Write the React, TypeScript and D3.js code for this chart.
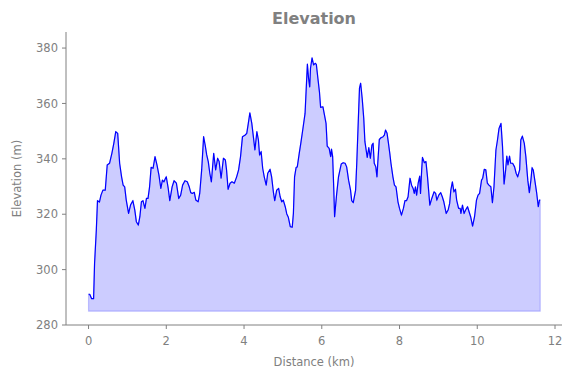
import React from "react";
import * as d3 from "d3";

const distanceKm = [
  0.0, 0.03, 0.08, 0.13, 0.155, 0.2, 0.23, 0.28, 0.32, 0.37, 0.43, 0.48, 0.54, 0.6, 0.65, 0.7, 0.75, 0.8, 0.85, 0.89,
  0.93, 0.97, 1.03, 1.08, 1.14, 1.19, 1.23, 1.28, 1.32, 1.36, 1.4, 1.45, 1.49, 1.53, 1.57, 1.61, 1.66, 1.71, 1.76, 1.81,
  1.86, 1.9, 1.94, 1.98, 2.0, 2.05, 2.09, 2.15, 2.2, 2.26, 2.32, 2.37, 2.42, 2.48, 2.54, 2.59, 2.63, 2.67, 2.72, 2.76,
  2.82, 2.86, 2.91, 2.96, 3.0, 3.04, 3.08, 3.12, 3.16, 3.22, 3.27, 3.32, 3.36, 3.41, 3.47, 3.52, 3.55, 3.59, 3.64, 3.69,
  3.75, 3.81, 3.86, 3.91, 3.96, 4.03, 4.07, 4.11, 4.15, 4.2, 4.24, 4.28, 4.33, 4.37, 4.4, 4.44, 4.48, 4.52, 4.57, 4.61,
  4.67, 4.71, 4.76, 4.79, 4.84, 4.89, 4.93, 4.97, 5.01, 5.06, 5.1, 5.14, 5.19, 5.24, 5.27, 5.3, 5.34, 5.37, 5.42, 5.46,
  5.51, 5.57, 5.59, 5.63, 5.66, 5.69, 5.71, 5.75, 5.79, 5.83, 5.86, 5.9, 5.94, 5.97, 6.03, 6.07, 6.11, 6.14, 6.19, 6.23,
  6.25, 6.28, 6.31, 6.33, 6.38, 6.43, 6.5, 6.55, 6.6, 6.64, 6.69, 6.74, 6.77, 6.81, 6.87, 6.9, 6.94, 6.97, 7.0, 7.04,
  7.08, 7.11, 7.17, 7.21, 7.25, 7.29, 7.32, 7.35, 7.39, 7.42, 7.44, 7.48, 7.53, 7.57, 7.61, 7.64, 7.68, 7.71, 7.75, 7.78,
  7.83, 7.87, 7.91, 7.96, 8.0, 8.05, 8.1, 8.14, 8.18, 8.22, 8.27, 8.31, 8.35, 8.38, 8.41, 8.44, 8.48, 8.52, 8.54, 8.57,
  8.59, 8.64, 8.68, 8.72, 8.78, 8.83, 8.89, 8.93, 8.96, 9.01, 9.06, 9.1, 9.14, 9.2, 9.25, 9.29, 9.32, 9.36, 9.4, 9.44,
  9.47, 9.52, 9.56, 9.58, 9.62, 9.66, 9.7, 9.75, 9.79, 9.83, 9.88, 9.93, 9.98, 10.02, 10.06, 10.11, 10.14, 10.18, 10.22, 10.26,
  10.3, 10.35, 10.39, 10.43, 10.48, 10.52, 10.56, 10.61, 10.65, 10.69, 10.73, 10.76, 10.79, 10.83, 10.86, 10.91, 10.96, 11.0, 11.04, 11.09,
  11.12, 11.16, 11.21, 11.25, 11.3, 11.34, 11.38, 11.41, 11.44, 11.48, 11.53, 11.57, 11.6, 11.62,
];

const elevationM = [
  291.1, 291.1, 289.5, 289.5, 302.3, 314.3, 324.9, 324.4, 326.9, 328.7, 328.7, 337.8, 338.4, 342, 345.6, 349.8, 349.2, 338.4, 333.5, 330.5,
  329.9, 325.1, 320.3, 323.3, 324.9, 321.5, 317.3, 316.1, 319.1, 324.5, 324.9, 322.1, 325.7, 325.7, 329.9, 336.9, 336.6, 340.8, 337.8, 334.2,
  329.3, 332.3, 331.7, 333, 333.5, 329.3, 324.9, 329.9, 332.1, 331.2, 325.7, 326.9, 330.5, 332.1, 331.7, 329.9, 327.8, 327.5, 327.9, 325.1,
  324.5, 327.5, 336, 348, 345, 341.4, 339, 334.8, 331.7, 342, 336, 340.2, 339, 333, 340.2, 339.6, 336, 329, 331.2, 331.7,
  331.2, 333.5, 336, 340.8, 348, 348.6, 349.2, 352.8, 356.6, 352.8, 348, 343.2, 349.8, 346.8, 341.4, 342.6, 336.6, 333.5, 330.5, 334.8,
  336.2, 333.5, 327.5, 324.9, 328.7, 329.3, 326.3, 324.5, 325.1, 322.7, 320.1, 318.9, 315.5, 315.3, 320.3, 333.5, 336.9, 337.1, 342, 345.6,
  350.4, 356.4, 362.4, 374.2, 369.1, 366, 372.7, 376.5, 373.9, 374.5, 374.1, 369.1, 364.2, 358.6, 358.8, 355.8, 352.8, 344.6, 343.8, 340.8,
  343.5, 340.8, 328.7, 319.1, 326.9, 333.5, 338.1, 338.6, 338.4, 337.1, 332.3, 328.7, 324.9, 324.2, 328.7, 338.4, 354, 365.5, 367.3, 361.8,
  354.6, 346.2, 340.5, 344.1, 340.2, 345, 345.6, 338.4, 337.1, 333.5, 338.4, 347, 347.7, 347.9, 348.6, 350.4, 349.2, 346.2, 342, 338.4,
  333.5, 330.5, 329.9, 324.5, 322.1, 319.7, 322.1, 324.9, 324.9, 326.3, 333, 330.5, 329.3, 327.5, 329.9, 326.9, 331.2, 333.8, 327.5, 336,
  340.5, 338.6, 339, 333.5, 323.3, 325.7, 328.1, 327.5, 325.1, 326.9, 327.8, 326.3, 324.5, 320.3, 321.5, 323.9, 328.7, 331.7, 328.1, 329,
  325.1, 322.1, 322.1, 320.3, 323.3, 320.3, 321.5, 322.7, 320.9, 319.1, 315.7, 319.1, 325.1, 326.9, 327.5, 332.3, 333, 336.2, 336, 331.2,
  330.5, 329.9, 324.2, 329.9, 343.2, 346.8, 351, 352.8, 344.4, 330.9, 336, 341, 337.8, 341, 338.4, 338.4, 337.1, 334.8, 333.5, 336,
  346.8, 348.2, 345.6, 340.8, 332.3, 327.8, 332.3, 336.8, 336, 332.3, 327.5, 322.7, 325.1, 325.1,
];

const xTicks = [0, 2, 4, 6, 8, 10, 12];
const yTicks = [280, 300, 320, 340, 360, 380];
const fillBase = 285;
const xDomain = [-0.58, 12.18];
const yDomain = [280, 385.8];

const W = 574;
const H = 378;
const left = 66;
const right = 562;
const top = 32;
const bottom = 325;
const GRAY = "#808080";
const FONT = "DejaVu Sans, sans-serif";

export default function App() {
  const x = d3.scaleLinear().domain(xDomain).range([left, right]);
  const y = d3.scaleLinear().domain(yDomain).range([bottom, top]);
  const pts = distanceKm.map((d, i) => [d, elevationM[i]] as [number, number]);
  const line = d3
    .line<[number, number]>()
    .x((d) => x(d[0]))
    .y((d) => y(d[1]));
  const area = d3
    .area<[number, number]>()
    .x((d) => x(d[0]))
    .y0(y(fillBase))
    .y1((d) => y(d[1]));

  return (
    <svg
      width={W}
      height={H}
      style={{ position: "absolute", left: 0, top: 0, background: "#fff" }}
      fontFamily={FONT}
    >
      <path d={area(pts) || ""} fill="#0000ff" fillOpacity={0.2} stroke="#0000ff" strokeOpacity={0.2} strokeWidth={1.2} />
      <path d={line(pts) || ""} fill="none" stroke="#0000ff" strokeWidth={1.2} strokeLinejoin="round" />
      {/* spines */}
      <line x1={left} x2={left} y1={top} y2={bottom} stroke={GRAY} strokeWidth={1} />
      <line x1={left} x2={right} y1={bottom} y2={bottom} stroke={GRAY} strokeWidth={1} />
      {yTicks.map((t) => (
        <g key={"y" + t}>
          <line x1={left - 4} x2={left} y1={y(t)} y2={y(t)} stroke={GRAY} />
          <text x={left - 8} y={y(t)} dy="0.36em" textAnchor="end" fontSize={11.5} fill={GRAY}>
            {t}
          </text>
        </g>
      ))}
      {xTicks.map((t) => (
        <g key={"x" + t}>
          <line x1={x(t)} x2={x(t)} y1={bottom} y2={bottom + 4} stroke={GRAY} />
          <text x={x(t)} y={bottom + 20} textAnchor="middle" fontSize={11.5} fill={GRAY}>
            {t}
          </text>
        </g>
      ))}
      <text x={(left + right) / 2} y={366} textAnchor="middle" fontSize={11.5} fill={GRAY}>
        Distance (km)
      </text>
      <text
        transform={`translate(21, ${(top + bottom) / 2}) rotate(-90)`}
        textAnchor="middle"
        fontSize={11.5}
        fill={GRAY}
      >
        Elevation (m)
      </text>
      <text x={(left + right) / 2} y={24} textAnchor="middle" fontSize={16} fontWeight="bold" fill={GRAY}>
        Elevation
      </text>
    </svg>
  );
}
